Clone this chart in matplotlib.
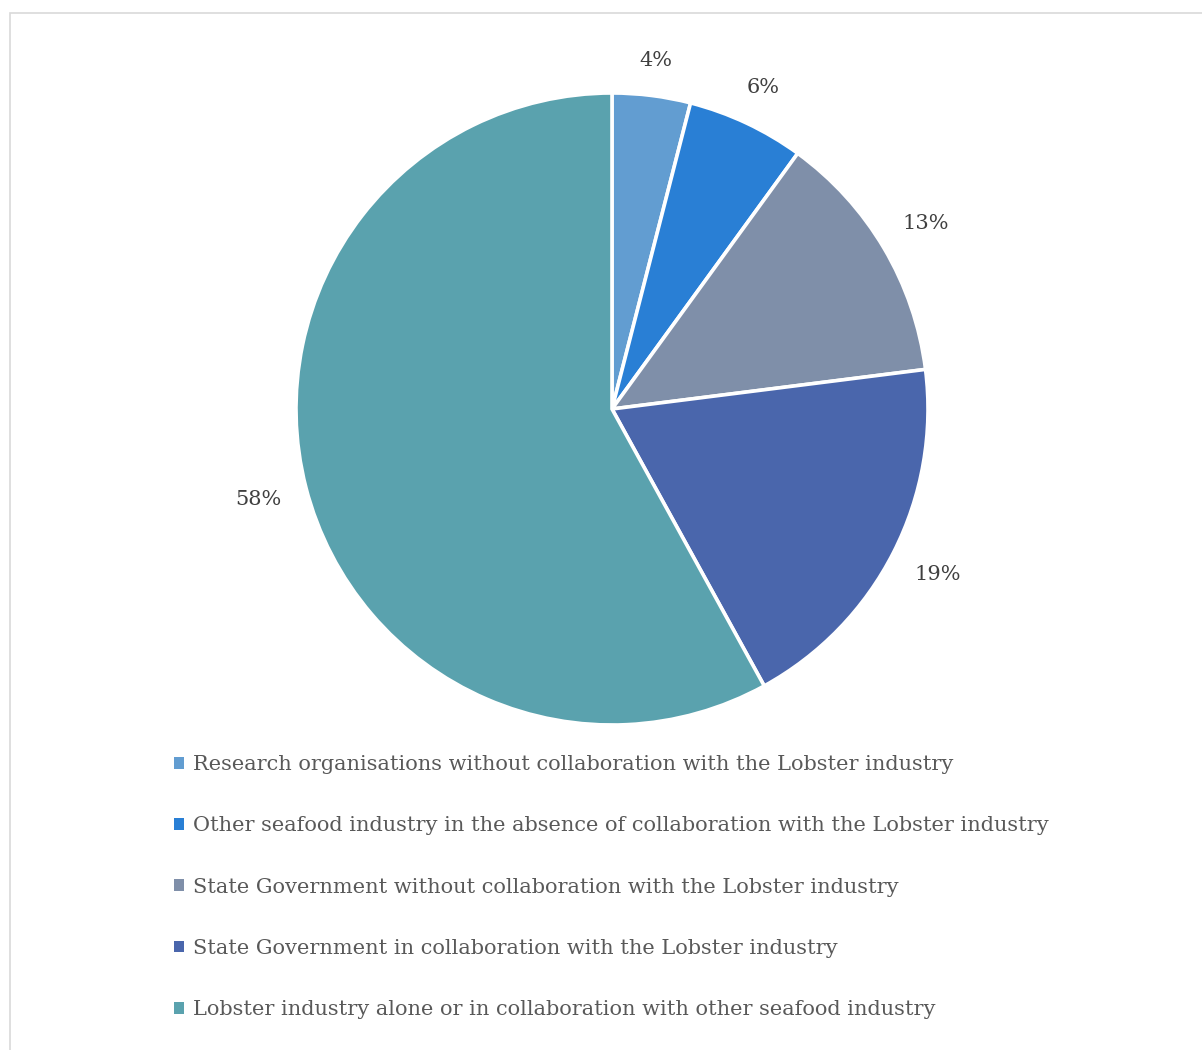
import numpy as np
import matplotlib
matplotlib.use("Agg")
import matplotlib.pyplot as plt
from matplotlib.patches import Rectangle

categories = [
    "Research organisations without collaboration with the Lobster industry",
    "Other seafood industry in the absence of collaboration with the Lobster industry",
    "State Government without collaboration with the Lobster industry",
    "State Government in collaboration with the Lobster industry",
    "Lobster industry alone or in collaboration with other seafood industry",
]
shares = [4, 6, 13, 19, 58]
colors = ["#629DD1", "#297FD5", "#7F8FA9", "#4A66AC", "#5AA2AE"]

FONT = "DejaVu Serif"
TEXT_COLOR = "#595959"

W, H = 1202, 1050
fig = plt.figure(figsize=(W / 100, H / 100), dpi=100)
fig.patch.set_facecolor("white")

# chart-area border
fig.add_artist(Rectangle((10 / W, -0.1), 1.2, 1.1 - 13 / H,
                         transform=fig.transFigure, fill=False,
                         edgecolor="#D9D9D9", linewidth=1.2, clip_on=False))

cx, cy, r = 612, 409, 316
ax = fig.add_axes([(cx - r) / W, (H - cy - r) / H, 2 * r / W, 2 * r / H])
wedges, texts, autotexts = ax.pie(
    shares, colors=colors, startangle=90, counterclock=False, radius=1,
    autopct=lambda p: f"{p:.0f}%", pctdistance=1.15,
    wedgeprops=dict(edgecolor="white", linewidth=2.6),
    textprops=dict(fontfamily=FONT, fontsize=15, color="#404040"),
)
ax.set_xlim(-1, 1)
ax.set_ylim(-1, 1)
ax.set_aspect("equal")
ax.axis("off")

# place each percentage just outside the rim, with a constant gap between
# the text box and the circle
fig.canvas.draw()
renderer = fig.canvas.get_renderer()
gap = 24.0
for w, t in zip(wedges, autotexts):
    theta = np.deg2rad((w.theta1 + w.theta2) / 2)
    bb = t.get_window_extent(renderer)
    half = abs(bb.width / 2 * np.cos(theta)) + abs(bb.height / 2 * np.sin(theta))
    d = (r + gap + half) / r
    t.set_position((d * np.cos(theta), d * np.sin(theta)))
    t.set_ha("center")
    t.set_va("center")

leg = fig.legend(
    wedges, categories, loc="upper left",
    bbox_to_anchor=(174 / W, 1 - 755 / H), frameon=False,
    prop=dict(family=FONT, size=15), labelcolor=TEXT_COLOR,
    handlelength=0.5, handleheight=0.5, handletextpad=0.42,
    labelspacing=2.03, borderaxespad=0, borderpad=0,
)
for h in leg.legend_handles:
    h.set_edgecolor("none")
    h.set_linewidth(0)

fig.savefig("out.png", dpi=100)
